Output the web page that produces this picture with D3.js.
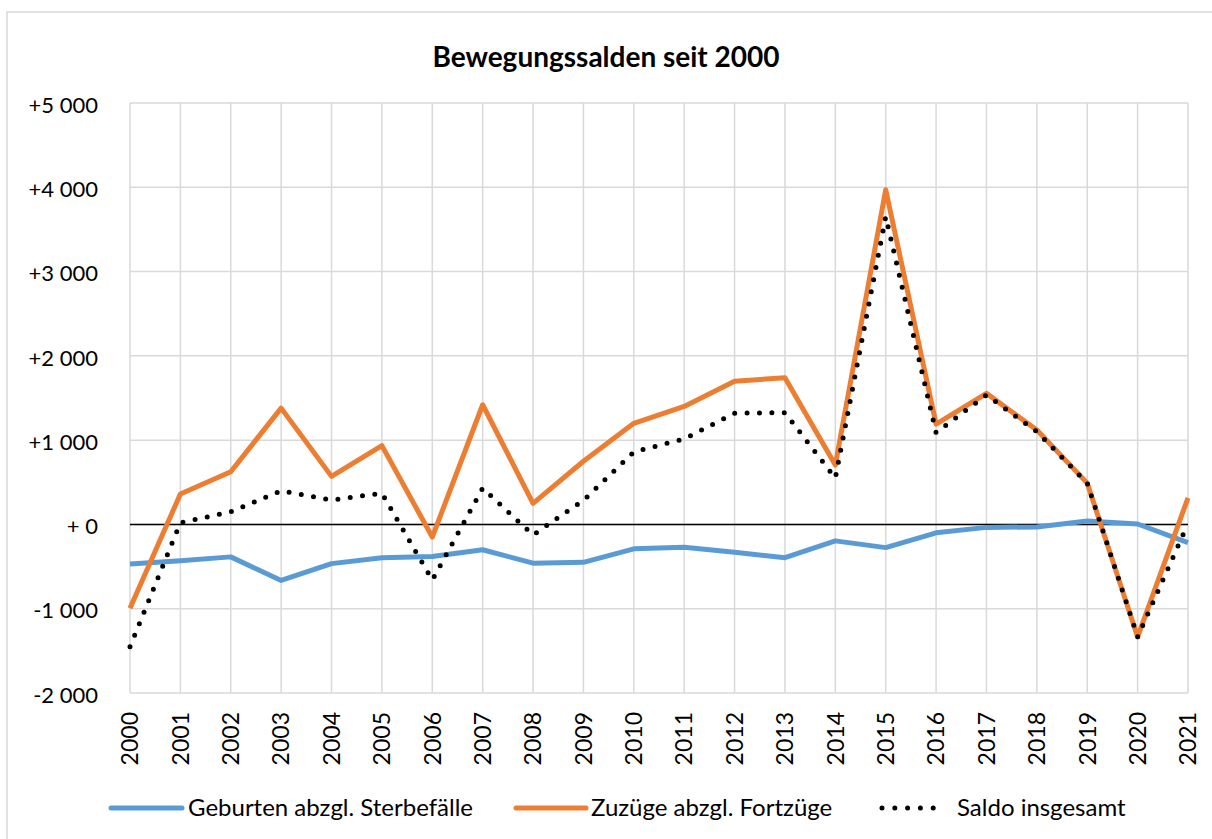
<!DOCTYPE html>
<html>
<head>
<meta charset="utf-8">
<script src="https://cdn.jsdelivr.net/npm/d3@7"></script>
<style>
  body { margin: 0; background: #fff; }
  svg { display: block; font-family: Lato, "Open Sans", sans-serif; }
</style>
</head>
<body>
<svg id="chart" width="1212" height="839"></svg>
<script>
// data
var years = d3.range(2000, 2022);
var natural = [-470, -430, -385, -665, -465, -395, -380, -300, -460, -450, -290, -270, -330, -395, -195, -275, -100, -35, -30, 40, 5, -215];
var migration = [-995, 360, 625, 1380, 570, 935, -150, 1420, 250, 750, 1200, 1400, 1700, 1740, 705, 3970, 1190, 1555, 1120, 490, -1335, 315];
var total = [-1450, 20, 150, 400, 290, 370, -660, 430, -125, 285, 860, 1015, 1320, 1325, 550, 3650, 1090, 1535, 1100, 490, -1335, 10];
var yTicks = [-2000, -1000, 0, 1000, 2000, 3000, 4000, 5000];
var seriesNames = ["Geburten abzgl. Sterbefälle", "Zuzüge abzgl. Fortzüge", "Saldo insgesamt"];

var blue = "#5b9bd5", orange = "#ed7d31", grid = "#d9d9d9";
var margin = {left: 130, right: 24, top: 103, bottom: 146};
var W = 1212, H = 839;

var svg = d3.select("#chart");

// outer frame
svg.append("rect")
  .attr("x", 7).attr("y", 12)
  .attr("width", 1220).attr("height", 840)
  .style("fill", "none").style("stroke", grid).style("stroke-width", 1.5);

var x = d3.scaleLinear().domain([2000, 2021]).range([margin.left, W - margin.right]);
var y = d3.scaleLinear().domain([-2000, 5000]).range([H - margin.bottom, margin.top]);

function fmt(v) {
  if (v === 0) return "+ 0";
  var s = d3.format(",")(Math.abs(v)).replace(/,/g, " ");
  return (v > 0 ? "+" : "-") + s;
}

// gridlines
svg.append("g").selectAll("line").data(years).enter().append("line")
  .attr("x1", function(d){ return x(d); }).attr("x2", function(d){ return x(d); })
  .attr("y1", y(5000)).attr("y2", y(-2000))
  .style("stroke", grid).style("stroke-width", 1.5);
svg.append("g").selectAll("line").data(yTicks).enter().append("line")
  .attr("x1", x(2000)).attr("x2", x(2021))
  .attr("y1", function(d){ return y(d); }).attr("y2", function(d){ return y(d); })
  .style("stroke", grid).style("stroke-width", 1.5);

// zero line
svg.append("line")
  .attr("x1", x(2000)).attr("x2", x(2021))
  .attr("y1", y(0)).attr("y2", y(0))
  .style("stroke", "#000").style("stroke-width", 1.5);

// y labels
svg.append("g").selectAll("text").data(yTicks).enter().append("text")
  .attr("x", 98).attr("y", function(d){ return y(d) + 2; })
  .attr("dy", "0.35em")
  .style("text-anchor", "end").style("font-size", "22px").style("fill", "#000")
  .text(fmt);

// x labels
svg.append("g").selectAll("text").data(years).enter().append("text")
  .attr("transform", function(d){ return "translate(" + x(d) + "," + 712 + ") rotate(-90)"; })
  .attr("dy", "0.36em")
  .style("text-anchor", "end").style("font-size", "23px").style("fill", "#000")
  .text(function(d){ return d; });

// lines
var line = function(vals) {
  return d3.line()
    .x(function(d, i){ return x(years[i]); })
    .y(function(d){ return y(d); })(vals);
};

svg.append("path").attr("d", line(natural))
  .style("fill", "none").style("stroke", blue).style("stroke-width", 5)
  .style("stroke-linejoin", "round");
svg.append("path").attr("d", line(migration))
  .style("fill", "none").style("stroke", orange).style("stroke-width", 5)
  .style("stroke-linejoin", "round");
svg.append("path").attr("d", line(total))
  .style("fill", "none").style("stroke", "#000").style("stroke-width", 5)
  .style("stroke-linecap", "round").style("stroke-dasharray", "0 12.4");

// title
svg.append("text")
  .attr("x", 606).attr("y", 57).attr("dy", "0.35em")
  .style("text-anchor", "middle").style("font-size", "28px").style("font-weight", "bold")
  .text("Bewegungssalden seit 2000");

// legend
var legendY = 808;
var leg = [
  {x1: 111, x2: 182, tx: 188, color: blue, dash: null},
  {x1: 516, x2: 586, tx: 591, color: orange, dash: null},
  {x1: 882, x2: 946, tx: 957, color: "#000", dash: "0 12.8"}
];
leg.forEach(function(l, i){
  svg.append("line")
    .attr("x1", l.x1).attr("x2", l.x2).attr("y1", legendY).attr("y2", legendY)
    .style("stroke", l.color).style("stroke-width", 5)
    .style("stroke-linecap", "round")
    .style("stroke-dasharray", l.dash);
  svg.append("text")
    .attr("x", l.tx).attr("y", legendY).attr("dy", "0.35em")
    .style("font-size", "24px")
    .text(seriesNames[i]);
});
</script>
</body>
</html>
